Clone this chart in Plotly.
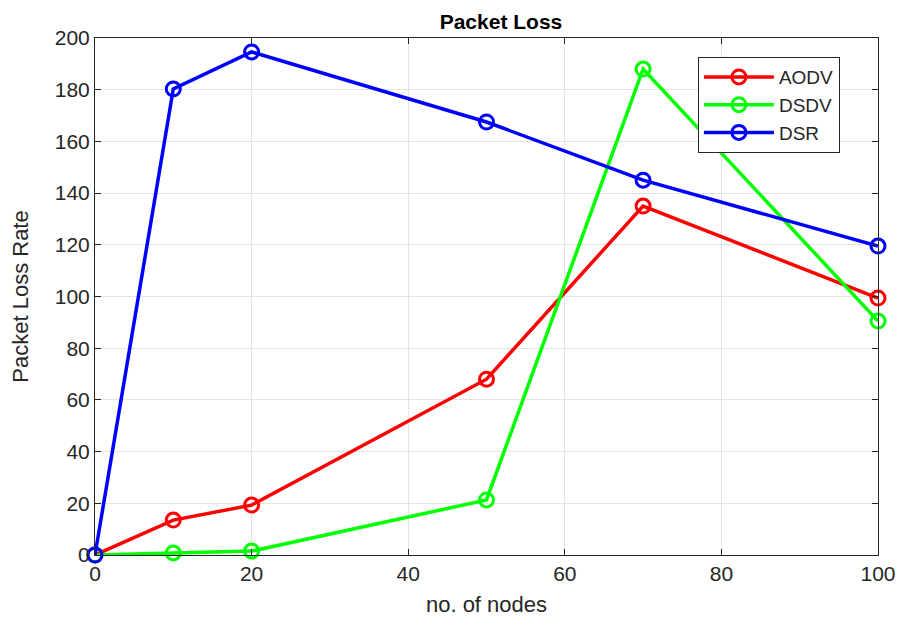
import plotly.graph_objects as go

nodes = [0, 10, 20, 50, 70, 100]
aodv = [0, 13.5, 19.3, 68, 135, 99.4]
dsdv = [0, 0.8, 1.5, 21.3, 188, 90.5]
dsr = [0, 180.3, 194.6, 167.5, 145, 119.5]

series = [("AODV", aodv, "#ff0000"), ("DSDV", dsdv, "#00ff00"), ("DSR", dsr, "#0000ff")]

FONT = "Liberation Sans, Arial"
INK = "#262626"

fig = go.Figure()
for name, vals, color in series:
    fig.add_trace(go.Scatter(
        x=nodes, y=vals, name=name, mode="lines+markers", cliponaxis=False,
        line=dict(color=color, width=3.5),
        marker=dict(symbol="circle-open", size=14, color=color, line=dict(width=3, color=color)),
    ))

axis_common = dict(
    showline=True, linecolor=INK, linewidth=1, mirror="ticks",
    ticks="inside", ticklen=6, tickcolor=INK,
    showgrid=True, gridcolor="#e3e3e3", gridwidth=1, zeroline=False,
    automargin=False, ticklabeloverflow="allow",
    tickfont=dict(family=FONT, size=21, color=INK),
)

fig.update_layout(
    width=897, height=619,
    margin=dict(l=95, r=19, t=38, b=64),
    paper_bgcolor="white", plot_bgcolor="white",
    title=dict(text="<b>Packet Loss</b>", x=0.5585, xanchor="center", y=0.977, yanchor="top",
               font=dict(family=FONT, size=21, color="black")),
    xaxis=dict(range=[0, 100], tickvals=[0, 20, 40, 60, 80, 100],
               title=dict(text="no. of nodes", standoff=12,
                          font=dict(family=FONT, size=22, color=INK)),
               **axis_common),
    yaxis=dict(range=[0, 200], tickvals=list(range(0, 201, 20)),
               title=dict(text="Packet Loss Rate", standoff=20,
                          font=dict(family=FONT, size=22, color=INK)),
               **axis_common),
    legend=dict(x=0.770, y=0.963, xanchor="left", yanchor="top",
                bgcolor="white", bordercolor=INK, borderwidth=1,
                font=dict(family=FONT, size=19, color=INK),
                itemwidth=70, tracegroupgap=0),
    showlegend=True,
)

fig.write_html("out.html")
